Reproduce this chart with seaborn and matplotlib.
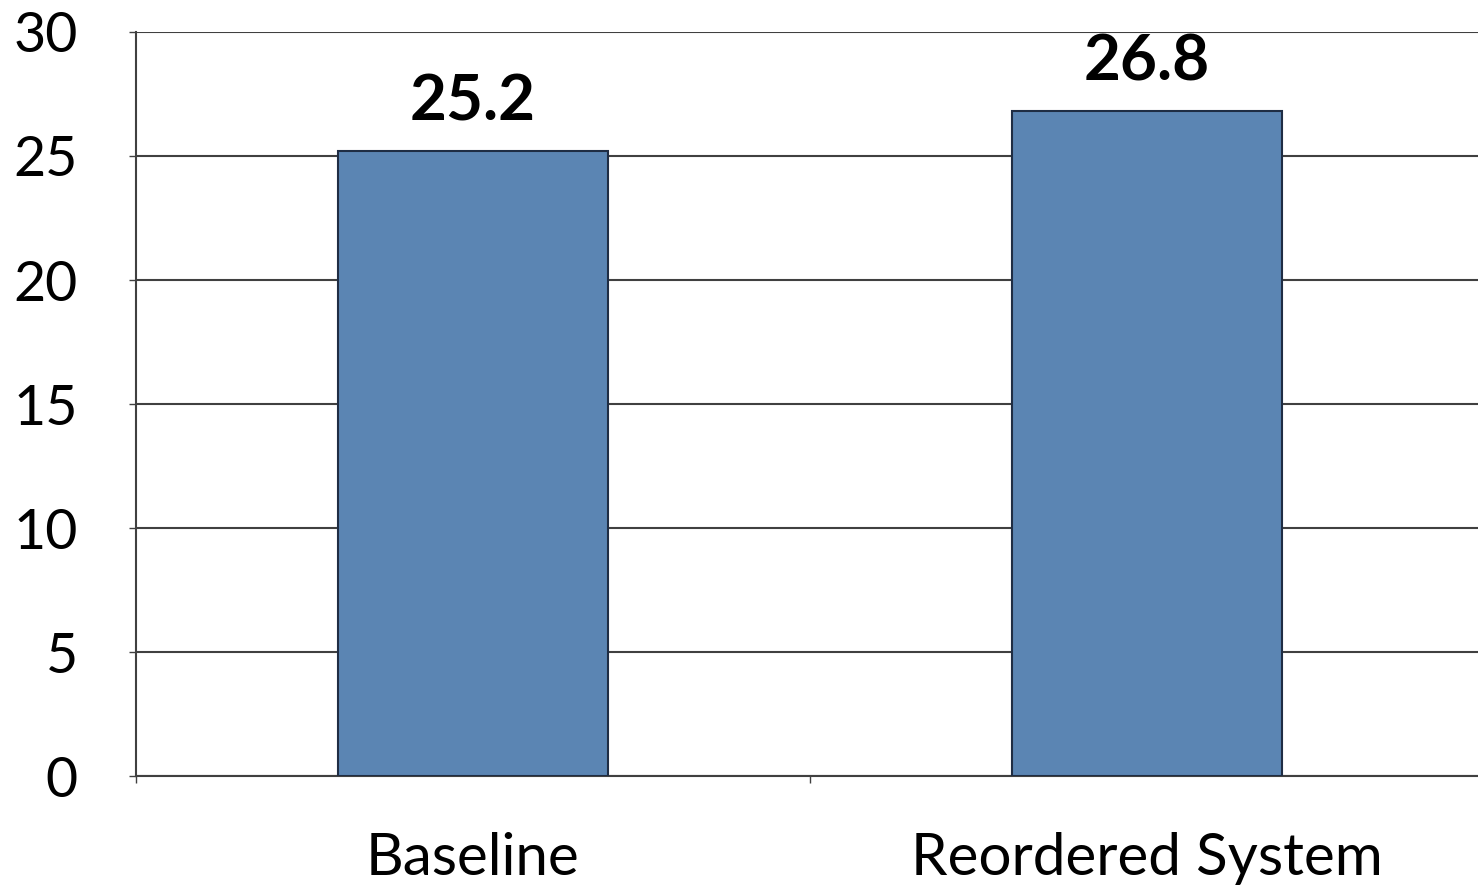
import matplotlib
matplotlib.use("Agg")
import matplotlib.pyplot as plt
import seaborn as sns
import pandas as pd

categories = ["Baseline", "Reordered System"]
values = [25.2, 26.8]
value_labels = ["25.2", "26.8"]
y_ticks = [0, 5, 10, 15, 20, 25, 30]

sns.set_theme(style="white")
plt.rcParams['font.family'] = ['Lato', 'DejaVu Sans']

df = pd.DataFrame({"category": categories, "value": values})

fig = plt.figure(figsize=(14.78, 8.88), dpi=100)
ax = fig.add_axes([0.092, 0.126, 0.912, 0.838])

sns.barplot(data=df, x="category", y="value", color="#5B85B3", saturation=1,
            width=0.4, edgecolor="#1F2D44", linewidth=1.5, ax=ax, zorder=3)

ax.set_ylim(0, 30)
ax.set_yticks(y_ticks)
ax.set_yticklabels([str(t) for t in y_ticks])
ax.set_xlim(-0.5, 1.5)
ax.set_xticks([-0.5, 0.5, 1.5], minor=False)
ax.set_xticklabels(["", "", ""])
ax.set_xticks([0, 1], minor=True)
ax.set_xticklabels(categories, minor=True)
ax.tick_params(axis="x", which="minor", length=0, pad=40, labelsize=42, colors="black")
ax.tick_params(axis="x", which="major", length=5, width=1, direction="out", color="#404040", bottom=True)
ax.tick_params(axis="y", length=5, width=1, direction="out", pad=37, labelsize=40,
               colors="black", left=True)
ax.tick_params(axis="y", color="#404040")

ax.yaxis.grid(True, color="#404040", linewidth=1.5, zorder=0)
ax.xaxis.grid(False)
ax.set_axisbelow(True)
ax.set_xlabel("")
ax.set_ylabel("")

for s in ["top", "right"]:
    ax.spines[s].set_visible(False)
ax.spines["left"].set_color("#404040")
ax.spines["left"].set_linewidth(1.5)
ax.spines["bottom"].set_color("#404040")
ax.spines["bottom"].set_linewidth(1.5)

for i, (v, lab) in enumerate(zip(values, value_labels)):
    ax.annotate(lab, xy=(i, v), xytext=(0, 15), textcoords="offset points",
                ha="center", va="bottom", fontsize=46, fontweight="bold", color="black")

fig.savefig("out.png", dpi=100)
